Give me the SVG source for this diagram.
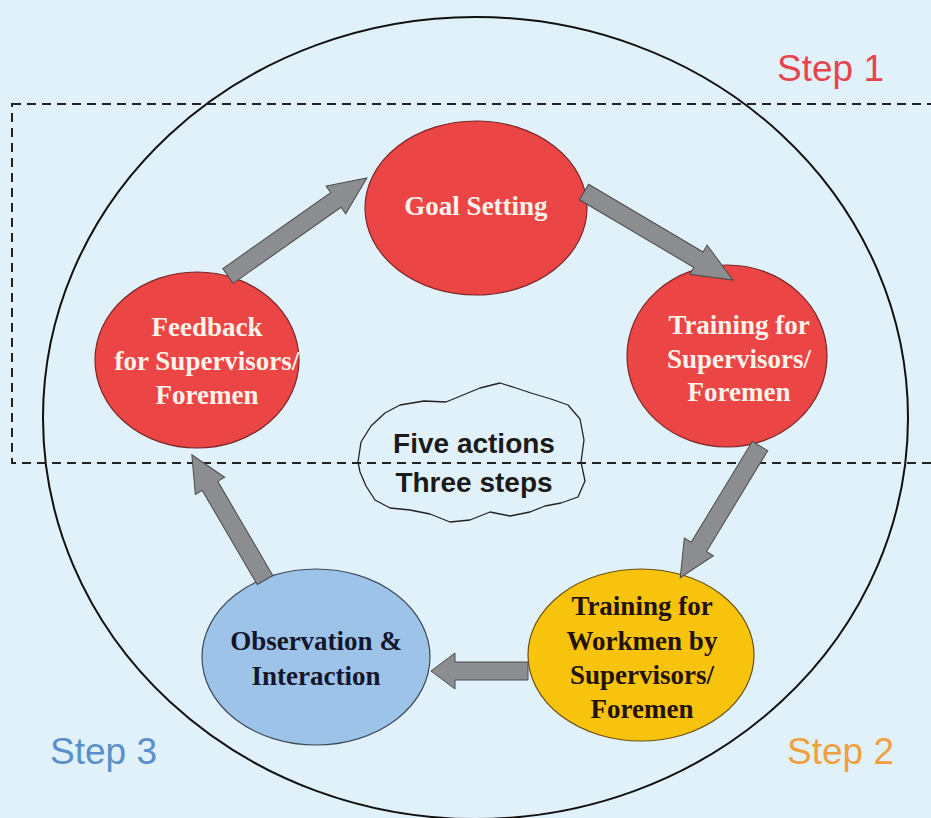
<svg xmlns="http://www.w3.org/2000/svg" width="931" height="818" viewBox="0 0 931 818">
<style>
.red{fill:#eb4545;stroke:#7a2626;stroke-width:1.2}
.blue{fill:#9dc4e8;stroke:#3c4a5c;stroke-width:1.2}
.yel{fill:#f8c30c;stroke:#6a5010;stroke-width:1.2}
.arr{fill:#8b8d90;stroke:#4a4a4a;stroke-width:1}
.wt{font-family:"Liberation Serif","Times New Roman",serif;font-weight:bold;font-size:27px;fill:#fff2e8;text-anchor:middle}
.dt{font-family:"Liberation Serif","Times New Roman",serif;font-weight:bold;font-size:27px;text-anchor:middle}
.step{font-family:"Liberation Sans",Arial,sans-serif;font-size:37px}
.cloudt{font-family:"Liberation Sans",Arial,sans-serif;font-weight:bold;font-size:28px;fill:#1a1a1a;text-anchor:middle}
</style>
<rect x="0" y="0" width="931" height="818" fill="#e1f1fa"/>
<ellipse id="frame" cx="475.5" cy="418" rx="432.5" ry="401" fill="none" stroke="#111" stroke-width="2"/>
<rect id="step1-box" x="12" y="104" width="940" height="359" fill="none" stroke="#222" stroke-width="2" stroke-dasharray="9,6"/>
<text class="step" x="777" y="81" fill="#e8434e">Step 1</text>
<text class="step" x="787" y="764" fill="#f0a040">Step 2</text>
<text class="step" x="50" y="764" fill="#5b8fcb">Step 3</text>

<g id="cloud">
<path d="M358,462 L361,442 L371,426 L385,413 L400,405 L424,401 L446,402 L463,395 L480,388 L500,383 L516,388 L531,393 L551,399 L568,405 L580,419 L584,440 L581,462 L585,481 L578,497 L561,503 L545,506 L530,512 L510,516 L490,512 L470,520 L450,522 L430,514 L410,510 L390,508 L375,500 L366,486 L360,472 Z" fill="none" stroke="#222" stroke-width="1.3" stroke-linejoin="round"/>
<text class="cloudt" x="474" y="453">Five actions</text>
<text class="cloudt" x="474" y="492">Three steps</text>
</g>

<g id="goal">
<ellipse class="red" cx="476" cy="208" rx="111" ry="87"/>
<text class="wt" x="476" y="215">Goal Setting</text>
</g>
<g id="training-sup">
<ellipse class="red" cx="727" cy="356" rx="100" ry="91"/>
<text class="wt" x="739" y="334">Training for</text>
<text class="wt" x="739" y="368">Supervisors/</text>
<text class="wt" x="739" y="401">Foremen</text>
</g>
<g id="feedback">
<ellipse class="red" cx="197" cy="360" rx="102" ry="88"/>
<text class="wt" x="207" y="336">Feedback</text>
<text class="wt" x="207" y="370">for Supervisors/</text>
<text class="wt" x="207" y="404">Foremen</text>
</g>
<g id="observation">
<ellipse class="blue" cx="316" cy="657" rx="114" ry="88"/>
<text class="dt" x="316" y="650" fill="#15152e">Observation &amp;</text>
<text class="dt" x="316" y="685" fill="#15152e">Interaction</text>
</g>
<g id="training-workmen">
<ellipse class="yel" cx="641" cy="655" rx="113" ry="86"/>
<text class="dt" x="642" y="615" fill="#22120a">Training for</text>
<text class="dt" x="642" y="650" fill="#22120a">Workmen by</text>
<text class="dt" x="642" y="684" fill="#22120a">Supervisors/</text>
<text class="dt" x="642" y="718" fill="#22120a">Foremen</text>
</g>

<g id="connectors">
<path class="arr" transform="translate(228,276) rotate(-35.2)" d="M0,-9 H132 V-17 L170,0 L132,17 V9 H0 Z"/>
<path class="arr" transform="translate(584,192) rotate(30.6)" d="M0,-9 H133 V-17 L173,0 L133,17 V9 H0 Z"/>
<path class="arr" transform="translate(760,446) rotate(121.2)" d="M0,-9 H118 V-17 L154,0 L118,17 V9 H0 Z"/>
<path class="arr" transform="translate(528,671) rotate(180)" d="M0,-9 H73 V-18 L97,0 L73,18 V9 H0 Z"/>
<path class="arr" transform="translate(265,580) rotate(-120.3)" d="M0,-9 H109 V-17 L145,0 L109,17 V9 H0 Z"/>
</g>
</svg>
